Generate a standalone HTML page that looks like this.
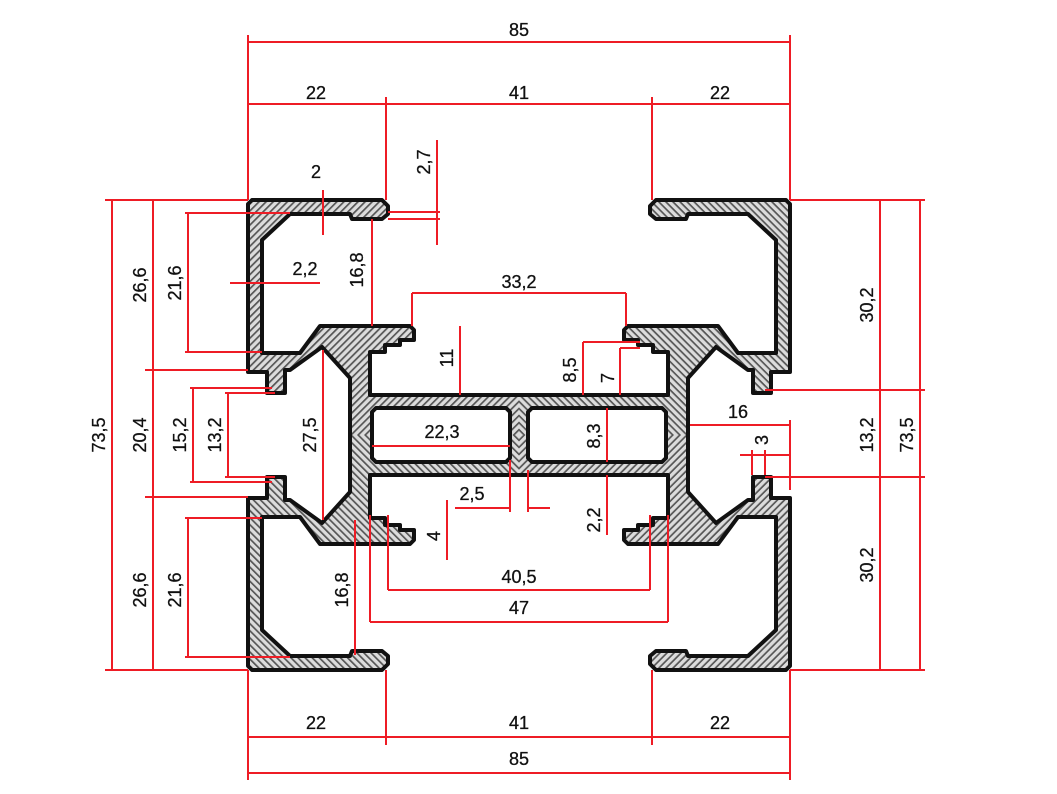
<!DOCTYPE html>
<html><head><meta charset="utf-8"><style>
html,body{margin:0;padding:0;background:#fff;}
svg{display:block;}
text{font-family:"Liberation Sans",sans-serif;font-size:18px;fill:#111;stroke:#111;stroke-width:0.3;}
</style></head><body>
<svg width="1057" height="794" viewBox="0 0 1057 794" xmlns="http://www.w3.org/2000/svg">
<defs>
<pattern id="h" width="5" height="5" patternUnits="userSpaceOnUse" patternTransform="rotate(-45)">
<rect width="5" height="5" fill="#dcdcdc"/>
<rect width="5" height="1.7" fill="#555"/>
</pattern>
<g id="q">
<polygon fill="url(#h)" points="350,435 350,378 322,347 290,370 285,370 285,393 267,393 267,372 248,372 248,204 252,200 382,200 388,206 388,214 382,219 352,219 350,214 290,214 262,240 262,353 300,353 320,326 410,326 414,330 414,340 400,340 400,345 385,345 385,352 370,352 370,395 519,395 519,435 510,435 510,412 506,408 376,408 372,412 372,435"/>
<polyline fill="none" stroke="#111" stroke-width="4" stroke-linejoin="round" points="350,435 350,378 322,347 290,370 285,370 285,393 267,393 267,372 248,372 248,204 252,200 382,200 388,206 388,214 382,219 352,219 350,214 290,214 262,240 262,353 300,353 320,326 410,326 414,330 414,340 400,340 400,345 385,345 385,352 370,352 370,395 519,395"/>
<polyline fill="none" stroke="#111" stroke-width="4" stroke-linejoin="round" points="510,435 510,412 506,408 376,408 372,412 372,435"/>
</g>
</defs>
<use href="#q"/>
<use href="#q" transform="translate(1038,0) scale(-1,1)"/>
<use href="#q" transform="translate(0,870) scale(1,-1)"/>
<use href="#q" transform="translate(1038,870) scale(-1,-1)"/>

<g stroke="#ee1c25" stroke-width="2" fill="none">
<path d="M248,35V200M790,35V200M248,42H790M248,104H790M386,97V200M652,97V200"/>
<path d="M323,190V235M437,140V245M388,212H440M388,219H440M230,283H320M372,219V326"/>
<path d="M105,200H248M105,670H248M112,200V670M153,200V670M145,370H248M145,497H248"/>
<path d="M185,213H290M185,352H262M188,213V352M185,518H262M185,657H290M188,518V657"/>
<path d="M190,388H272M190,482H272M193,388V482M225,393H275M225,477H275M228,393V477M323,350V520"/>
<path d="M412,293H626M412,293V326M626,293V326M460,326V395M372,446H510"/>
<path d="M583,342H640M583,342V395M620,348H640M620,348V395M607,408V462M607,475V535"/>
<path d="M455,508H510M528,508H550M510,460V512M528,470V512M447,500V560M388,515V590M650,515V590M388,590H650M370,515V622M668,515V622M370,622H668M355,520V655"/>
<path d="M690,425H790M740,455H790M790,420V490M752,450V475M765,450V475"/>
<path d="M790,200H925M765,390H925M765,477H925M790,670H925M880,200V670M920,200V670"/>
<path d="M248,670V780M790,670V780M386,670V745M652,670V745M248,737H790M248,773H790"/>
</g>

<g>
<text x="519" y="36" text-anchor="middle">85</text>
<text x="316" y="99" text-anchor="middle">22</text>
<text x="519" y="99" text-anchor="middle">41</text>
<text x="720" y="99" text-anchor="middle">22</text>
<text x="316" y="178" text-anchor="middle">2</text>
<text transform="translate(430,162) rotate(-90)" text-anchor="middle">2,7</text>
<text x="305" y="275" text-anchor="middle">2,2</text>
<text transform="translate(363,270) rotate(-90)" text-anchor="middle">16,8</text>
<text transform="translate(181,283) rotate(-90)" text-anchor="middle">21,6</text>
<text transform="translate(146,285) rotate(-90)" text-anchor="middle">26,6</text>
<text transform="translate(105,435) rotate(-90)" text-anchor="middle">73,5</text>
<text transform="translate(146,435) rotate(-90)" text-anchor="middle">20,4</text>
<text transform="translate(186,435) rotate(-90)" text-anchor="middle">15,2</text>
<text transform="translate(221,435) rotate(-90)" text-anchor="middle">13,2</text>
<text transform="translate(316,435) rotate(-90)" text-anchor="middle">27,5</text>
<text transform="translate(146,590) rotate(-90)" text-anchor="middle">26,6</text>
<text transform="translate(181,590) rotate(-90)" text-anchor="middle">21,6</text>
<text transform="translate(348,590) rotate(-90)" text-anchor="middle">16,8</text>
<text x="519" y="288" text-anchor="middle">33,2</text>
<text transform="translate(453,358) rotate(-90)" text-anchor="middle">11</text>
<text x="442" y="438" text-anchor="middle">22,3</text>
<text transform="translate(576,370) rotate(-90)" text-anchor="middle">8,5</text>
<text transform="translate(614,378) rotate(-90)" text-anchor="middle">7</text>
<text transform="translate(600,436) rotate(-90)" text-anchor="middle">8,3</text>
<text transform="translate(600,520) rotate(-90)" text-anchor="middle">2,2</text>
<text x="472" y="500" text-anchor="middle">2,5</text>
<text transform="translate(440,536) rotate(-90)" text-anchor="middle">4</text>
<text x="519" y="583" text-anchor="middle">40,5</text>
<text x="519" y="614" text-anchor="middle">47</text>
<text x="738" y="418" text-anchor="middle">16</text>
<text transform="translate(768,440) rotate(-90)" text-anchor="middle">3</text>
<text transform="translate(873,305) rotate(-90)" text-anchor="middle">30,2</text>
<text transform="translate(873,435) rotate(-90)" text-anchor="middle">13,2</text>
<text transform="translate(873,565) rotate(-90)" text-anchor="middle">30,2</text>
<text transform="translate(913,435) rotate(-90)" text-anchor="middle">73,5</text>
<text x="316" y="729" text-anchor="middle">22</text>
<text x="519" y="729" text-anchor="middle">41</text>
<text x="720" y="729" text-anchor="middle">22</text>
<text x="519" y="765" text-anchor="middle">85</text>
</g>
</svg>
</body></html>
